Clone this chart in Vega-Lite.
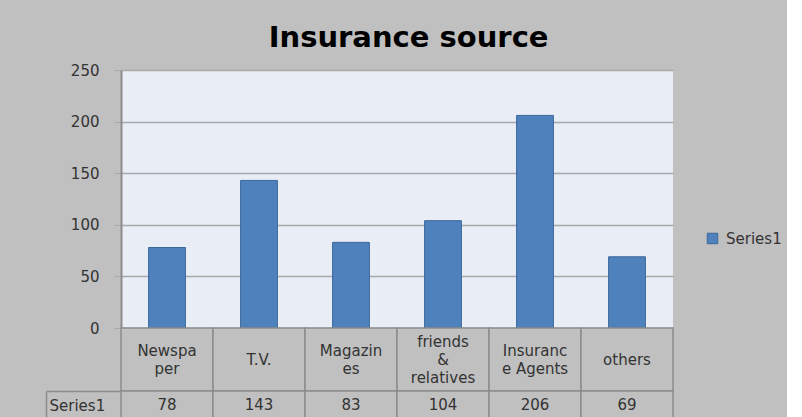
{
  "$schema": "https://vega.github.io/schema/vega-lite/v6.json",
  "background": "#c0c0c0",
  "padding": {"left": 45, "top": 24, "right": 5, "bottom": 0},
  "bounds": "flush",
  "title": {"text": "Insurance source", "font": "DejaVu Sans", "fontSize": 29, "fontWeight": "bold", "color": "#000000", "anchor": "middle", "offset": 10, "dx": -5},
  "data": {"values": [
    {"source": "Newspaper", "label": "Newspa\nper", "count": 78, "series": "Series1"},
    {"source": "T.V.", "label": "T.V.", "count": 143, "series": "Series1"},
    {"source": "Magazines", "label": "Magazin\nes", "count": 83, "series": "Series1"},
    {"source": "friends & relatives", "label": "friends\n&\nrelatives", "count": 104, "series": "Series1"},
    {"source": "Insurance Agents", "label": "Insuranc\ne Agents", "count": 206, "series": "Series1"},
    {"source": "others", "label": "others", "count": 69, "series": "Series1"}
  ]},
  "spacing": 0,
  "resolve": {"scale": {"x": "independent", "y": "independent"}},
  "vconcat": [
    {
      "width": 552,
      "height": 258,
      "view": {"fill": "#e9eef6", "stroke": null},
      "mark": {"type": "bar", "stroke": "#3b679a", "strokeWidth": 1},
      "encoding": {
        "x": {"field": "source", "type": "nominal", "sort": null, "scale": {"paddingInner": 0.6, "paddingOuter": 0.3}, "axis": null},
        "y": {"field": "count", "type": "quantitative", "scale": {"domain": [0, 250], "nice": false},
          "axis": {"values": [0, 50, 100, 150, 200, 250], "title": null, "grid": true, "gridColor": "#a9a9a9", "gridWidth": 1.5, "tickColor": "#a9a9a9", "tickSize": 7, "domainColor": "#8c8c8c", "domainWidth": 2, "labelFont": "DejaVu Sans", "labelFontSize": 15, "labelColor": "#333333", "labelPadding": 15}},
        "color": {"field": "series", "type": "nominal", "scale": {"range": ["#4f81bd"]},
          "legend": {"title": null, "orient": "none", "legendX": 584, "legendY": 161, "symbolType": "square", "symbolSize": 110, "symbolStrokeColor": "#3b679a", "symbolStrokeWidth": 1, "labelFont": "DejaVu Sans", "labelFontSize": 15, "labelColor": "#333333", "labelOffset": 6}}
      }
    },
    {
      "width": 552,
      "height": 63,
      "view": {"stroke": null},
      "encoding": {
        "x": {"field": "source", "type": "nominal", "sort": null, "scale": {"paddingInner": 0, "paddingOuter": 0}, "axis": null}
      },
      "layer": [
        {"mark": {"type": "rect", "fill": "#c0c0c0", "stroke": "#8c8c8c", "strokeWidth": 1.5}},
        {"transform": [{"filter": "length(split(datum.label, '\\n')) == 1"}],
          "mark": {"type": "text", "font": "DejaVu Sans", "fontSize": 15, "color": "#333333", "lineBreak": "\n", "lineHeight": 18, "baseline": "middle"},
          "encoding": {"text": {"field": "label"}}},
        {"transform": [{"filter": "length(split(datum.label, '\\n')) == 2"}],
          "mark": {"type": "text", "font": "DejaVu Sans", "fontSize": 15, "color": "#333333", "lineBreak": "\n", "lineHeight": 18, "baseline": "middle", "dy": -9},
          "encoding": {"text": {"field": "label"}}},
        {"transform": [{"filter": "length(split(datum.label, '\\n')) == 3"}],
          "mark": {"type": "text", "font": "DejaVu Sans", "fontSize": 15, "color": "#333333", "lineBreak": "\n", "lineHeight": 18, "baseline": "middle", "dy": -18},
          "encoding": {"text": {"field": "label"}}}
      ]
    },
    {
      "width": 552,
      "height": 28,
      "view": {"stroke": null},
      "encoding": {
        "x": {"field": "source", "type": "nominal", "sort": null, "scale": {"paddingInner": 0, "paddingOuter": 0}, "axis": null},
        "y": {"field": "series", "type": "nominal", "scale": {"paddingInner": 0, "paddingOuter": 0},
          "axis": {"title": null, "offset": 75, "domain": true, "domainColor": "#8c8c8c", "domainWidth": 1.5, "tickBand": "extent", "tickSize": -75, "tickColor": "#8c8c8c", "tickWidth": 1.5, "labelFont": "DejaVu Sans", "labelFontSize": 15, "labelColor": "#333333", "labelPadding": 72, "labelAlign": "left"}}
      },
      "layer": [
        {"mark": {"type": "rect", "fill": "#c0c0c0", "stroke": "#8c8c8c", "strokeWidth": 1.5}},
        {"mark": {"type": "text", "font": "DejaVu Sans", "fontSize": 15, "color": "#333333", "baseline": "middle"},
          "encoding": {"text": {"field": "count"}}}
      ]
    }
  ]
}
